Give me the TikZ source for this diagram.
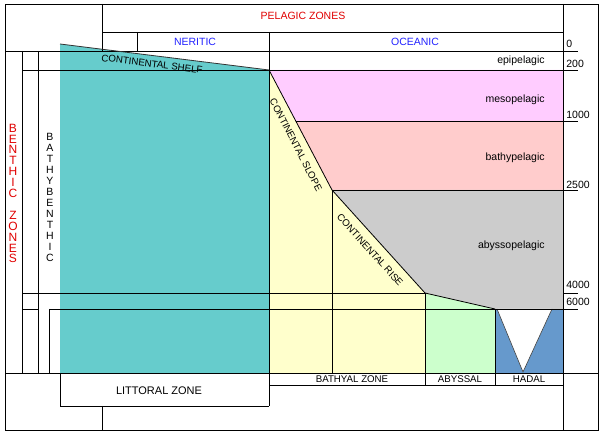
\documentclass[tikz,border=0pt]{standalone}
\usepackage{fontspec}
\setmainfont{Liberation Sans}
\definecolor{cshelf}{HTML}{66CCCC}
\definecolor{cslope}{HTML}{FFFFCC}
\definecolor{cmeso}{HTML}{FFCCFF}
\definecolor{cbathy}{HTML}{FFCCCC}
\definecolor{cabysso}{HTML}{CCCCCC}
\definecolor{cabyss}{HTML}{CCFFCC}
\definecolor{chadal}{HTML}{6699CC}
\definecolor{zred}{HTML}{E00000}
\definecolor{zblue}{HTML}{2222FF}
\begin{document}
\begin{tikzpicture}[x=1pt,y=-1pt,line width=0.8pt,
  lbl/.style={font=\fontsize{10.5}{12}\selectfont,inner sep=0pt},
  sml/.style={font=\fontsize{9.7}{11}\selectfont,inner sep=0pt},
  stk/.style={font=\fontsize{12}{13}\selectfont,inner sep=0pt}]
\useasboundingbox (0,0) rectangle (600,435);
% fills
\fill[cshelf] (60,44) -- (269,70) -- (269,373) -- (60,373) -- cycle;
\fill[cslope] (269,70) -- (332,190) -- (425,293) -- (425,373) -- (269,373) -- cycle;
\fill[cmeso] (269,70) -- (563,70) -- (563,121) -- (295.5,121) -- cycle;
\fill[cbathy] (295.5,121) -- (563,121) -- (563,190) -- (332,190) -- cycle;
\fill[cabysso] (332,190) -- (563,190) -- (563,309) -- (495,309) -- (425,293) -- cycle;
\fill[cabyss] (425,293) -- (495,309) -- (495,373) -- (425,373) -- cycle;
\fill[chadal] (495,309) rectangle (563,373);
\fill[white] (497,309) -- (523,372) -- (552,309) -- cycle;
\draw[line width=0.6pt,black!75] (497,309) -- (523,372) -- (552,309);
% frame and grid
\draw (5,4) rectangle (598,430);
\draw (5,51) -- (578,51);
\draw (102,4) -- (102,51);
\draw (102,32) -- (563,32);
\draw (137,32) -- (137,51);
\draw (269,32) -- (269,406);
\draw (563,4) -- (563,430);
\draw (22,51) -- (22,373);
\draw (38,51) -- (38,373);
\draw (22,70) -- (578,70);
\draw[black!80] (60,44) -- (269,70);
\draw (269,70) -- (332,190) -- (425,293) -- (495,309);
\draw (295.5,121) -- (578,121);
\draw (332,190) -- (578,190);
\draw (332,190) -- (332,373);
\draw (22,293) -- (425,293);
\draw (563,293) -- (578,293);
\draw (22,309) -- (38,309);
\draw (49,309) -- (578,309);
\draw (49,309) -- (49,373);
\draw (425,293) -- (425,385);
\draw (495,309) -- (495,385);
\draw (5,373) -- (598,373);
\draw (269,385) -- (563,385);
\draw (60,373) -- (60,406) -- (269,406);
\draw (102,406) -- (102,430);
% headings
\node[lbl,text=zred] (pel) at (303,16) {PELAGIC ZONES};
\node[lbl,text=zblue] (ner) at (195,41.5) {NERITIC};
\node[lbl,text=zblue] (oce) at (415,41.5) {OCEANIC};
% zones
\node[lbl,anchor=east] (epi) at (545,61) {epipelagic};
\node[lbl,anchor=east] (meso) at (545,100) {mesopelagic};
\node[lbl,anchor=east] (bathy) at (545,158) {bathypelagic};
\node[lbl,anchor=east] (abysso) at (545,246) {abyssopelagic};
% depths
\node[lbl,anchor=base west] (d0) at (566,48) {0};
\node[lbl,anchor=base west] (d200) at (566,68) {200};
\node[lbl,anchor=base west] (d1000) at (566,119) {1000};
\node[lbl,anchor=base west] (d2500) at (566,189) {2500};
\node[lbl,anchor=base west] (d4000) at (566,289) {4000};
\node[lbl,anchor=base west] (d6000) at (566,306) {6000};
% rotated
\node[sml,rotate=-7.1] (shelf) at (152,64) {CONTINENTAL SHELF};
\node[sml,rotate=-62.7] (slope) at (296,145) {CONTINENTAL SLOPE};
\node[sml,rotate=-47.9] (rise) at (370,250) {CONTINENTAL RISE};
% bottom
\node[font=\fontsize{11}{12}\selectfont,inner sep=0pt] (lit) at (159,391) {LITTORAL ZONE};
\node[sml] (bat) at (352,379.5) {BATHYAL ZONE};
\node[sml] (aby) at (460,379.5) {ABYSSAL};
\node[sml] (had) at (529,379.5) {HADAL};
% stacked
\foreach \ch [count=\i from 0] in {B,E,N,T,H,I,C,{},Z,O,N,E,S}
  \node[stk,text=zred] (bz\i) at (13,128+\i*10.9) {\ch};
\foreach \ch [count=\i from 0] in {B,A,T,H,Y,B,E,N,T,H,I,C}
  \node[lbl] (bb\i) at (50,137+\i*11) {\ch};
\end{tikzpicture}
\end{document}
